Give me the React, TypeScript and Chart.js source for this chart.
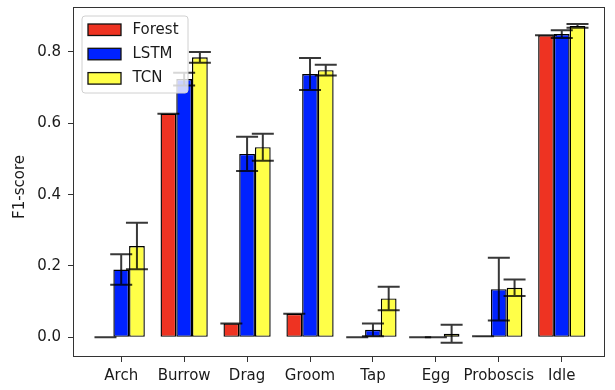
import React, { useEffect, useRef } from 'react';
import { Chart, registerables } from 'chart.js';

Chart.register(...registerables);

const categories = ['Arch', 'Burrow', 'Drag', 'Groom', 'Tap', 'Egg', 'Proboscis', 'Idle'];
const seriesNames = ['Forest', 'LSTM', 'TCN'];
const forestValues = [0, 0.627, 0.039, 0.066, 0, 0, 0.003, 0.847];
const forestErrors = [0, 0, 0, 0, 0, 0, 0, 0];
const lstmValues = [0.19, 0.724, 0.514, 0.738, 0.021, 0, 0.135, 0.85];
const lstmErrors = [0.043, 0.018, 0.048, 0.045, 0.018, 0, 0.088, 0.011];
const tcnValues = [0.256, 0.785, 0.533, 0.749, 0.109, 0.01, 0.139, 0.873];
const tcnErrors = [0.065, 0.015, 0.038, 0.015, 0.033, 0.025, 0.023, 0.005];
const yTicks = [0, 0.2, 0.4, 0.6, 0.8];
const yTitle = 'F1-score';
const seriesColors = ['#EE3322', '#0022FF', '#FFFF48'];

const FONT = { family: 'DejaVu Sans', size: 15 };
const TEXT_COLOR = '#1a1a1a';
const CAP = 11;

const errorBarPlugin = {
  id: 'errorBars',
  afterDatasetsDraw(chart: any) {
    const { ctx } = chart;
    const yScale = chart.scales.y;
    ctx.save();
    ctx.strokeStyle = 'rgba(0,0,0,0.78)';
    ctx.lineWidth = 2;
    chart.data.datasets.forEach((ds: any, di: number) => {
      const meta = chart.getDatasetMeta(di);
      meta.data.forEach((bar: any, i: number) => {
        const v = ds.data[i].y;
        const e = ds.errors[i];
        const x = bar.x;
        const yTop = yScale.getPixelForValue(v + e);
        const yBot = yScale.getPixelForValue(v - e);
        ctx.beginPath();
        ctx.moveTo(x, yTop);
        ctx.lineTo(x, yBot);
        ctx.moveTo(x - CAP, yTop);
        ctx.lineTo(x + CAP, yTop);
        ctx.moveTo(x - CAP, yBot);
        ctx.lineTo(x + CAP, yBot);
        ctx.stroke();
      });
    });
    ctx.restore();
  },
};

const frameLegendPlugin = {
  id: 'frameLegend',
  afterDraw(chart: any) {
    const { ctx, chartArea: ca } = chart;
    ctx.save();
    // frame
    const l = Math.round(ca.left) + 0.5;
    const t = Math.round(ca.top) + 0.5;
    const r = Math.round(ca.right) - 0.5;
    const b = Math.round(ca.bottom) - 0.5;
    ctx.strokeStyle = '#333';
    ctx.lineWidth = 1;
    ctx.strokeRect(l, t, r - l, b - t);

    // y-axis title
    ctx.save();
    ctx.translate(20, (ca.top + ca.bottom) / 2 + 5);
    ctx.rotate(-Math.PI / 2);
    ctx.font = `${FONT.size}px "${FONT.family}"`;
    ctx.fillStyle = TEXT_COLOR;
    ctx.textAlign = 'center';
    ctx.textBaseline = 'middle';
    ctx.fillText(yTitle, 0, 0);
    ctx.restore();

    // legend
    const bx = ca.left + 9;
    const by = ca.top + 9;
    const bw = 106;
    const bh = 77;
    const rad = 3;
    ctx.beginPath();
    ctx.moveTo(bx + rad, by);
    ctx.lineTo(bx + bw - rad, by);
    ctx.quadraticCurveTo(bx + bw, by, bx + bw, by + rad);
    ctx.lineTo(bx + bw, by + bh - rad);
    ctx.quadraticCurveTo(bx + bw, by + bh, bx + bw - rad, by + bh);
    ctx.lineTo(bx + rad, by + bh);
    ctx.quadraticCurveTo(bx, by + bh, bx, by + bh - rad);
    ctx.lineTo(bx, by + rad);
    ctx.quadraticCurveTo(bx, by, bx + rad, by);
    ctx.closePath();
    ctx.fillStyle = 'rgba(255,255,255,0.8)';
    ctx.fill();
    ctx.strokeStyle = '#d0d0d0';
    ctx.stroke();

    ctx.font = `${FONT.size}px "${FONT.family}"`;
    ctx.textBaseline = 'middle';
    ctx.textAlign = 'left';
    chart.data.datasets.forEach((ds: any, i: number) => {
      const cy = by + 13.5 + i * 24.3;
      ctx.fillStyle = ds.backgroundColor;
      ctx.fillRect(bx + 6, cy - 5.5, 33, 11.5);
      ctx.strokeStyle = '#111';
      ctx.lineWidth = 1.3;
      ctx.strokeRect(bx + 6, cy - 5.5, 33, 11.5);
      ctx.fillStyle = TEXT_COLOR;
      ctx.fillText(ds.label, bx + 50.5, cy + 0.5);
    });
    ctx.restore();
  },
};

export default function App() {
  const ref = useRef<HTMLCanvasElement>(null);

  useEffect(() => {
    const valueSets = [forestValues, lstmValues, tcnValues];
    const errorSets = [forestErrors, lstmErrors, tcnErrors];
    const datasets = seriesNames.map((name, si) => ({
      label: name,
      data: valueSets[si].map((v, i) => ({ x: i, y: v })),
      errors: errorSets[si],
      backgroundColor: seriesColors[si],
      borderColor: '#000',
      borderWidth: 1.4,
      borderSkipped: false,
      categoryPercentage: 0.75,
      barPercentage: 1,
    }));

    const chart = new Chart(ref.current as HTMLCanvasElement, {
      type: 'bar',
      data: { datasets } as any,
      options: {
        responsive: true,
        maintainAspectRatio: false,
        animation: false,
        layout: { padding: { top: 7, right: 10, left: 0, bottom: 0 } },
        plugins: {
          legend: { display: false },
          tooltip: { enabled: false },
        },
        scales: {
          x: {
            type: 'linear',
            min: -0.766,
            max: 7.687,
            offset: false,
            grid: {
              display: true,
              drawOnChartArea: false,
              drawTicks: true,
              tickLength: 5,
              tickColor: '#333',
              offset: false,
            },
            border: { display: false },
            afterBuildTicks: (s: any) => {
              s.ticks = categories.map((_, i) => ({ value: i }));
            },
            afterFit: (s: any) => {
              s.height = 33;
              s.paddingLeft = 0;
              s.paddingRight = 0;
            },
            ticks: {
              callback: (v: any) => categories[Math.round(Number(v))],
              font: FONT,
              color: TEXT_COLOR,
              padding: 5,
              maxRotation: 0,
              autoSkip: false,
            },
          },
          y: {
            type: 'linear',
            min: -0.0552,
            max: 0.926,
            grid: {
              display: true,
              drawOnChartArea: false,
              drawTicks: true,
              tickLength: 5,
              tickColor: '#333',
            },
            border: { display: false },
            afterBuildTicks: (s: any) => {
              s.ticks = yTicks.map((v) => ({ value: v }));
            },
            afterFit: (s: any) => {
              s.width = 73;
              s.paddingTop = 0;
              s.paddingBottom = 0;
            },
            ticks: {
              callback: (v: any) => Number(v).toFixed(1),
              font: FONT,
              color: TEXT_COLOR,
              padding: 7,
            },
          },
        },
      } as any,
      plugins: [errorBarPlugin, frameLegendPlugin],
    });
    return () => chart.destroy();
  }, []);

  return (
    <div style={{ position: 'fixed', left: 0, top: 0, width: 615, height: 390, background: '#fff' }}>
      <canvas ref={ref} />
    </div>
  );
}
